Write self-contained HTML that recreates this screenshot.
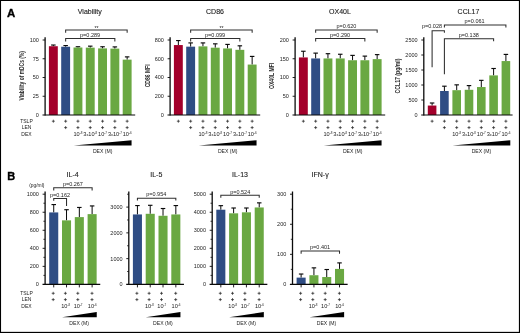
<!DOCTYPE html>
<html><head><meta charset="utf-8"><title>Figure</title>
<style>html,body{margin:0;padding:0;background:#fff;overflow:hidden}svg{display:block}svg text{font-family:"Liberation Sans","DejaVu Sans",sans-serif}</style>
</head><body>
<svg width="520" height="333" viewBox="0 0 520 333" role="img">
<rect x="0" y="0" width="520" height="333" fill="#fff"/>
<g>
<path d="M53.35 46.22V45.03" stroke="#0a0a0a" stroke-width="1"/>
<path d="M51.1 45.03H55.6" stroke="#0a0a0a" stroke-width="1.15"/>
<rect x="48.9" y="46.22" width="8.9" height="68.78" fill="#a3002b"/>
<path d="M65.65 46.75V45.55" stroke="#0a0a0a" stroke-width="1"/>
<path d="M63.4 45.55H67.9" stroke="#0a0a0a" stroke-width="1.15"/>
<rect x="61.2" y="46.75" width="8.9" height="68.25" fill="#2f4d84"/>
<path d="M77.95 47.5V46.75" stroke="#0a0a0a" stroke-width="1"/>
<path d="M75.7 46.75H80.2" stroke="#0a0a0a" stroke-width="1.15"/>
<rect x="73.5" y="47.5" width="8.9" height="67.5" fill="#6aa842"/>
<path d="M90.25 47.65V46.15" stroke="#0a0a0a" stroke-width="1"/>
<path d="M88 46.15H92.5" stroke="#0a0a0a" stroke-width="1.15"/>
<rect x="85.8" y="47.65" width="8.9" height="67.35" fill="#6aa842"/>
<path d="M102.55 48.4V46.75" stroke="#0a0a0a" stroke-width="1"/>
<path d="M100.3 46.75H104.8" stroke="#0a0a0a" stroke-width="1.15"/>
<rect x="98.1" y="48.4" width="8.9" height="66.6" fill="#6aa842"/>
<path d="M114.85 48.62V46.9" stroke="#0a0a0a" stroke-width="1"/>
<path d="M112.6 46.9H117.1" stroke="#0a0a0a" stroke-width="1.15"/>
<rect x="110.4" y="48.62" width="8.9" height="66.38" fill="#6aa842"/>
<path d="M127.15 59.65V56.88" stroke="#0a0a0a" stroke-width="1"/>
<path d="M124.9 56.88H129.4" stroke="#0a0a0a" stroke-width="1.15"/>
<rect x="122.7" y="59.65" width="8.9" height="55.35" fill="#6aa842"/>
<path d="M45.1 37.2L45.1 115.6" stroke="#0a0a0a" stroke-width="1.3"/>
<path d="M42.5 115L135.2 115" stroke="#0a0a0a" stroke-width="1.2"/>
<text x="38.9" y="116.95" font-size="5.5" text-anchor="end" fill="#1c1c1c">0</text>
<path d="M42.6 96.25L45.1 96.25" stroke="#0a0a0a" stroke-width="0.9"/>
<text x="38.9" y="98.2" font-size="5.5" text-anchor="end" fill="#1c1c1c">25</text>
<path d="M42.6 77.5L45.1 77.5" stroke="#0a0a0a" stroke-width="0.9"/>
<text x="38.9" y="79.45" font-size="5.5" text-anchor="end" fill="#1c1c1c">50</text>
<path d="M42.6 58.75L45.1 58.75" stroke="#0a0a0a" stroke-width="0.9"/>
<text x="38.9" y="60.7" font-size="5.5" text-anchor="end" fill="#1c1c1c">75</text>
<path d="M42.6 40L45.1 40" stroke="#0a0a0a" stroke-width="0.9"/>
<text x="38.9" y="41.95" font-size="5.5" text-anchor="end" fill="#1c1c1c">100</text>
<text x="89.8" y="13.6" font-size="7.0" text-anchor="middle" fill="#1c1c1c" stroke="#1c1c1c" stroke-width="0.12">Viability</text>
<text transform="translate(23.9,75.8) rotate(-90) scale(0.707,1)" font-size="7" font-weight="bold" text-anchor="middle" fill="#2a2a2a">Viability of mDCs (%)</text>
</g>
<path d="M65.65 32.8L65.65 30L127.15 30L127.15 32.8" fill="none" stroke="#2e2e2e" stroke-width="1.05"/>
<text x="96.4" y="29.7" font-size="5.2" text-anchor="middle" fill="#1c1c1c">**</text>
<path d="M65.65 41.4L65.65 38.5L114.85 38.5L114.85 41.4" fill="none" stroke="#2e2e2e" stroke-width="1.05"/>
<text x="90.1" y="36.6" font-size="5.5" text-anchor="middle" fill="#1c1c1c">p=0.289</text>
<path d="M51.85 121.2H54.85M53.35 119.7V122.7" stroke="#1c1c1c" stroke-width="0.7"/>
<path d="M64.15 121.2H67.15M65.65 119.7V122.7" stroke="#1c1c1c" stroke-width="0.7"/>
<path d="M76.45 121.2H79.45M77.95 119.7V122.7" stroke="#1c1c1c" stroke-width="0.7"/>
<path d="M88.75 121.2H91.75M90.25 119.7V122.7" stroke="#1c1c1c" stroke-width="0.7"/>
<path d="M101.05 121.2H104.05M102.55 119.7V122.7" stroke="#1c1c1c" stroke-width="0.7"/>
<path d="M113.35 121.2H116.35M114.85 119.7V122.7" stroke="#1c1c1c" stroke-width="0.7"/>
<path d="M125.65 121.2H128.65M127.15 119.7V122.7" stroke="#1c1c1c" stroke-width="0.7"/>
<path d="M64.15 127.6H67.15M65.65 126.1V129.1" stroke="#1c1c1c" stroke-width="0.7"/>
<path d="M76.45 127.6H79.45M77.95 126.1V129.1" stroke="#1c1c1c" stroke-width="0.7"/>
<path d="M88.75 127.6H91.75M90.25 126.1V129.1" stroke="#1c1c1c" stroke-width="0.7"/>
<path d="M101.05 127.6H104.05M102.55 126.1V129.1" stroke="#1c1c1c" stroke-width="0.7"/>
<path d="M113.35 127.6H116.35M114.85 126.1V129.1" stroke="#1c1c1c" stroke-width="0.7"/>
<path d="M125.65 127.6H128.65M127.15 126.1V129.1" stroke="#1c1c1c" stroke-width="0.7"/>
<text x="77.95" y="135.7" font-size="5.6" text-anchor="middle" fill="#1c1c1c">10<tspan font-size="3" dy="-1.5">-8</tspan></text>
<text x="90.25" y="135.7" font-size="5.6" text-anchor="middle" fill="#1c1c1c">3<tspan font-size="3.8">x</tspan>10<tspan font-size="3" dy="-1.5">-8</tspan></text>
<text x="102.55" y="135.7" font-size="5.6" text-anchor="middle" fill="#1c1c1c">10<tspan font-size="3" dy="-1.5">-7</tspan></text>
<text x="114.85" y="135.7" font-size="5.6" text-anchor="middle" fill="#1c1c1c">3<tspan font-size="3.8">x</tspan>10<tspan font-size="3" dy="-1.5">-7</tspan></text>
<text x="127.15" y="135.7" font-size="5.6" text-anchor="middle" fill="#1c1c1c">10<tspan font-size="3" dy="-1.5">-6</tspan></text>
<path d="M73.75 145.4L131.55 140.2V145.4Z" fill="#000"/>
<text x="102.65" y="153.1" font-size="5.1" text-anchor="middle" fill="#1c1c1c">DEX (M)</text>
<text x="26.5" y="122.8" font-size="5.0" text-anchor="middle" fill="#1c1c1c">TSLP</text>
<text x="26.5" y="129.15" font-size="5.0" text-anchor="middle" fill="#1c1c1c">LEN</text>
<text x="26.5" y="135.5" font-size="5.0" text-anchor="middle" fill="#1c1c1c">DEX</text>
<g>
<path d="M178.35 45.06V40.56" stroke="#0a0a0a" stroke-width="1"/>
<path d="M176.1 40.56H180.6" stroke="#0a0a0a" stroke-width="1.15"/>
<rect x="173.9" y="45.06" width="8.9" height="69.94" fill="#a3002b"/>
<path d="M190.65 46.66V42.91" stroke="#0a0a0a" stroke-width="1"/>
<path d="M188.4 42.91H192.9" stroke="#0a0a0a" stroke-width="1.15"/>
<rect x="186.2" y="46.66" width="8.9" height="68.34" fill="#2f4d84"/>
<path d="M202.95 46.38V42.91" stroke="#0a0a0a" stroke-width="1"/>
<path d="M200.7 42.91H205.2" stroke="#0a0a0a" stroke-width="1.15"/>
<rect x="198.5" y="46.38" width="8.9" height="68.62" fill="#6aa842"/>
<path d="M215.25 47.69V43.84" stroke="#0a0a0a" stroke-width="1"/>
<path d="M213 43.84H217.5" stroke="#0a0a0a" stroke-width="1.15"/>
<rect x="210.8" y="47.69" width="8.9" height="67.31" fill="#6aa842"/>
<path d="M227.55 48.44V44.41" stroke="#0a0a0a" stroke-width="1"/>
<path d="M225.3 44.41H229.8" stroke="#0a0a0a" stroke-width="1.15"/>
<rect x="223.1" y="48.44" width="8.9" height="66.56" fill="#6aa842"/>
<path d="M239.85 49.84V45.81" stroke="#0a0a0a" stroke-width="1"/>
<path d="M237.6 45.81H242.1" stroke="#0a0a0a" stroke-width="1.15"/>
<rect x="235.4" y="49.84" width="8.9" height="65.16" fill="#6aa842"/>
<path d="M252.15 64.56V56.41" stroke="#0a0a0a" stroke-width="1"/>
<path d="M249.9 56.41H254.4" stroke="#0a0a0a" stroke-width="1.15"/>
<rect x="247.7" y="64.56" width="8.9" height="50.44" fill="#6aa842"/>
<path d="M170.1 37.2L170.1 115.6" stroke="#0a0a0a" stroke-width="1.3"/>
<path d="M167.5 115L260.2 115" stroke="#0a0a0a" stroke-width="1.2"/>
<text x="163.9" y="116.95" font-size="5.5" text-anchor="end" fill="#1c1c1c">0</text>
<path d="M167.6 96.25L170.1 96.25" stroke="#0a0a0a" stroke-width="0.9"/>
<text x="163.9" y="98.2" font-size="5.5" text-anchor="end" fill="#1c1c1c">200</text>
<path d="M167.6 77.5L170.1 77.5" stroke="#0a0a0a" stroke-width="0.9"/>
<text x="163.9" y="79.45" font-size="5.5" text-anchor="end" fill="#1c1c1c">400</text>
<path d="M167.6 58.75L170.1 58.75" stroke="#0a0a0a" stroke-width="0.9"/>
<text x="163.9" y="60.7" font-size="5.5" text-anchor="end" fill="#1c1c1c">600</text>
<path d="M167.6 40L170.1 40" stroke="#0a0a0a" stroke-width="0.9"/>
<text x="163.9" y="41.95" font-size="5.5" text-anchor="end" fill="#1c1c1c">800</text>
<text x="215" y="13.6" font-size="7.0" text-anchor="middle" fill="#1c1c1c" stroke="#1c1c1c" stroke-width="0.12">CD86</text>
<text transform="translate(149.9,75.9) rotate(-90) scale(0.72,1)" font-size="7" font-weight="bold" text-anchor="middle" fill="#2a2a2a">CD86 MFI</text>
</g>
<path d="M190.65 32.8L190.65 30L252.15 30L252.15 32.8" fill="none" stroke="#2e2e2e" stroke-width="1.05"/>
<text x="221.4" y="29.7" font-size="5.2" text-anchor="middle" fill="#1c1c1c">**</text>
<path d="M190.65 41.4L190.65 38.5L239.85 38.5L239.85 41.4" fill="none" stroke="#2e2e2e" stroke-width="1.05"/>
<text x="215.1" y="36.6" font-size="5.5" text-anchor="middle" fill="#1c1c1c">p=0.099</text>
<path d="M176.85 121.2H179.85M178.35 119.7V122.7" stroke="#1c1c1c" stroke-width="0.7"/>
<path d="M189.15 121.2H192.15M190.65 119.7V122.7" stroke="#1c1c1c" stroke-width="0.7"/>
<path d="M201.45 121.2H204.45M202.95 119.7V122.7" stroke="#1c1c1c" stroke-width="0.7"/>
<path d="M213.75 121.2H216.75M215.25 119.7V122.7" stroke="#1c1c1c" stroke-width="0.7"/>
<path d="M226.05 121.2H229.05M227.55 119.7V122.7" stroke="#1c1c1c" stroke-width="0.7"/>
<path d="M238.35 121.2H241.35M239.85 119.7V122.7" stroke="#1c1c1c" stroke-width="0.7"/>
<path d="M250.65 121.2H253.65M252.15 119.7V122.7" stroke="#1c1c1c" stroke-width="0.7"/>
<path d="M189.15 127.6H192.15M190.65 126.1V129.1" stroke="#1c1c1c" stroke-width="0.7"/>
<path d="M201.45 127.6H204.45M202.95 126.1V129.1" stroke="#1c1c1c" stroke-width="0.7"/>
<path d="M213.75 127.6H216.75M215.25 126.1V129.1" stroke="#1c1c1c" stroke-width="0.7"/>
<path d="M226.05 127.6H229.05M227.55 126.1V129.1" stroke="#1c1c1c" stroke-width="0.7"/>
<path d="M238.35 127.6H241.35M239.85 126.1V129.1" stroke="#1c1c1c" stroke-width="0.7"/>
<path d="M250.65 127.6H253.65M252.15 126.1V129.1" stroke="#1c1c1c" stroke-width="0.7"/>
<text x="202.95" y="135.7" font-size="5.6" text-anchor="middle" fill="#1c1c1c">10<tspan font-size="3" dy="-1.5">-8</tspan></text>
<text x="215.25" y="135.7" font-size="5.6" text-anchor="middle" fill="#1c1c1c">3<tspan font-size="3.8">x</tspan>10<tspan font-size="3" dy="-1.5">-8</tspan></text>
<text x="227.55" y="135.7" font-size="5.6" text-anchor="middle" fill="#1c1c1c">10<tspan font-size="3" dy="-1.5">-7</tspan></text>
<text x="239.85" y="135.7" font-size="5.6" text-anchor="middle" fill="#1c1c1c">3<tspan font-size="3.8">x</tspan>10<tspan font-size="3" dy="-1.5">-7</tspan></text>
<text x="252.15" y="135.7" font-size="5.6" text-anchor="middle" fill="#1c1c1c">10<tspan font-size="3" dy="-1.5">-6</tspan></text>
<path d="M198.75 145.4L256.55 140.2V145.4Z" fill="#000"/>
<text x="227.65" y="153.1" font-size="5.1" text-anchor="middle" fill="#1c1c1c">DEX (M)</text>
<g>
<path d="M303.35 57.44V51.25" stroke="#0a0a0a" stroke-width="1"/>
<path d="M301.1 51.25H305.6" stroke="#0a0a0a" stroke-width="1.15"/>
<rect x="298.9" y="57.44" width="8.9" height="57.56" fill="#a3002b"/>
<path d="M315.65 58.45V53.12" stroke="#0a0a0a" stroke-width="1"/>
<path d="M313.4 53.12H317.9" stroke="#0a0a0a" stroke-width="1.15"/>
<rect x="311.2" y="58.45" width="8.9" height="56.55" fill="#2f4d84"/>
<path d="M327.95 58.45V53.69" stroke="#0a0a0a" stroke-width="1"/>
<path d="M325.7 53.69H330.2" stroke="#0a0a0a" stroke-width="1.15"/>
<rect x="323.5" y="58.45" width="8.9" height="56.55" fill="#6aa842"/>
<path d="M340.25 58.45V54.25" stroke="#0a0a0a" stroke-width="1"/>
<path d="M338 54.25H342.5" stroke="#0a0a0a" stroke-width="1.15"/>
<rect x="335.8" y="58.45" width="8.9" height="56.55" fill="#6aa842"/>
<path d="M352.55 60.25V55.38" stroke="#0a0a0a" stroke-width="1"/>
<path d="M350.3 55.38H354.8" stroke="#0a0a0a" stroke-width="1.15"/>
<rect x="348.1" y="60.25" width="8.9" height="54.75" fill="#6aa842"/>
<path d="M364.85 60.25V56.12" stroke="#0a0a0a" stroke-width="1"/>
<path d="M362.6 56.12H367.1" stroke="#0a0a0a" stroke-width="1.15"/>
<rect x="360.4" y="60.25" width="8.9" height="54.75" fill="#6aa842"/>
<path d="M377.15 59.12V54.62" stroke="#0a0a0a" stroke-width="1"/>
<path d="M374.9 54.62H379.4" stroke="#0a0a0a" stroke-width="1.15"/>
<rect x="372.7" y="59.12" width="8.9" height="55.88" fill="#6aa842"/>
<path d="M295.1 37.2L295.1 115.6" stroke="#0a0a0a" stroke-width="1.3"/>
<path d="M292.5 115L385.2 115" stroke="#0a0a0a" stroke-width="1.2"/>
<text x="288.9" y="116.95" font-size="5.5" text-anchor="end" fill="#1c1c1c">0</text>
<path d="M292.6 96.25L295.1 96.25" stroke="#0a0a0a" stroke-width="0.9"/>
<text x="288.9" y="98.2" font-size="5.5" text-anchor="end" fill="#1c1c1c">50</text>
<path d="M292.6 77.5L295.1 77.5" stroke="#0a0a0a" stroke-width="0.9"/>
<text x="288.9" y="79.45" font-size="5.5" text-anchor="end" fill="#1c1c1c">100</text>
<path d="M292.6 58.75L295.1 58.75" stroke="#0a0a0a" stroke-width="0.9"/>
<text x="288.9" y="60.7" font-size="5.5" text-anchor="end" fill="#1c1c1c">150</text>
<path d="M292.6 40L295.1 40" stroke="#0a0a0a" stroke-width="0.9"/>
<text x="288.9" y="41.95" font-size="5.5" text-anchor="end" fill="#1c1c1c">200</text>
<text x="340" y="13.6" font-size="7.0" text-anchor="middle" fill="#1c1c1c" stroke="#1c1c1c" stroke-width="0.12">OX40L</text>
<text transform="translate(273.7,75.9) rotate(-90) scale(0.73,1)" font-size="7" font-weight="bold" text-anchor="middle" fill="#2a2a2a">OX40L MFI</text>
</g>
<path d="M315.65 32.8L315.65 30L377.15 30L377.15 32.8" fill="none" stroke="#2e2e2e" stroke-width="1.05"/>
<text x="346.4" y="28.3" font-size="5.5" text-anchor="middle" fill="#1c1c1c">p=0.620</text>
<path d="M315.65 41.4L315.65 38.5L364.85 38.5L364.85 41.4" fill="none" stroke="#2e2e2e" stroke-width="1.05"/>
<text x="340.1" y="36.5" font-size="5.5" text-anchor="middle" fill="#1c1c1c">p=0.290</text>
<path d="M301.85 121.2H304.85M303.35 119.7V122.7" stroke="#1c1c1c" stroke-width="0.7"/>
<path d="M314.15 121.2H317.15M315.65 119.7V122.7" stroke="#1c1c1c" stroke-width="0.7"/>
<path d="M326.45 121.2H329.45M327.95 119.7V122.7" stroke="#1c1c1c" stroke-width="0.7"/>
<path d="M338.75 121.2H341.75M340.25 119.7V122.7" stroke="#1c1c1c" stroke-width="0.7"/>
<path d="M351.05 121.2H354.05M352.55 119.7V122.7" stroke="#1c1c1c" stroke-width="0.7"/>
<path d="M363.35 121.2H366.35M364.85 119.7V122.7" stroke="#1c1c1c" stroke-width="0.7"/>
<path d="M375.65 121.2H378.65M377.15 119.7V122.7" stroke="#1c1c1c" stroke-width="0.7"/>
<path d="M314.15 127.6H317.15M315.65 126.1V129.1" stroke="#1c1c1c" stroke-width="0.7"/>
<path d="M326.45 127.6H329.45M327.95 126.1V129.1" stroke="#1c1c1c" stroke-width="0.7"/>
<path d="M338.75 127.6H341.75M340.25 126.1V129.1" stroke="#1c1c1c" stroke-width="0.7"/>
<path d="M351.05 127.6H354.05M352.55 126.1V129.1" stroke="#1c1c1c" stroke-width="0.7"/>
<path d="M363.35 127.6H366.35M364.85 126.1V129.1" stroke="#1c1c1c" stroke-width="0.7"/>
<path d="M375.65 127.6H378.65M377.15 126.1V129.1" stroke="#1c1c1c" stroke-width="0.7"/>
<text x="327.95" y="135.7" font-size="5.6" text-anchor="middle" fill="#1c1c1c">10<tspan font-size="3" dy="-1.5">-8</tspan></text>
<text x="340.25" y="135.7" font-size="5.6" text-anchor="middle" fill="#1c1c1c">3<tspan font-size="3.8">x</tspan>10<tspan font-size="3" dy="-1.5">-8</tspan></text>
<text x="352.55" y="135.7" font-size="5.6" text-anchor="middle" fill="#1c1c1c">10<tspan font-size="3" dy="-1.5">-7</tspan></text>
<text x="364.85" y="135.7" font-size="5.6" text-anchor="middle" fill="#1c1c1c">3<tspan font-size="3.8">x</tspan>10<tspan font-size="3" dy="-1.5">-7</tspan></text>
<text x="377.15" y="135.7" font-size="5.6" text-anchor="middle" fill="#1c1c1c">10<tspan font-size="3" dy="-1.5">-6</tspan></text>
<path d="M323.75 145.4L381.55 140.2V145.4Z" fill="#000"/>
<text x="352.65" y="153.1" font-size="5.1" text-anchor="middle" fill="#1c1c1c">DEX (M)</text>
<g>
<path d="M432.1 105.55V103" stroke="#0a0a0a" stroke-width="1"/>
<path d="M429.85 103H434.35" stroke="#0a0a0a" stroke-width="1.15"/>
<rect x="427.8" y="105.55" width="8.6" height="9.45" fill="#a3002b"/>
<path d="M444.4 91V86.2" stroke="#0a0a0a" stroke-width="1"/>
<path d="M442.15 86.2H446.65" stroke="#0a0a0a" stroke-width="1.15"/>
<rect x="440.1" y="91" width="8.6" height="24" fill="#2f4d84"/>
<path d="M456.7 90.19V84.85" stroke="#0a0a0a" stroke-width="1"/>
<path d="M454.45 84.85H458.95" stroke="#0a0a0a" stroke-width="1.15"/>
<rect x="452.4" y="90.19" width="8.6" height="24.81" fill="#6aa842"/>
<path d="M469 89.8V85.6" stroke="#0a0a0a" stroke-width="1"/>
<path d="M466.75 85.6H471.25" stroke="#0a0a0a" stroke-width="1.15"/>
<rect x="464.7" y="89.8" width="8.6" height="25.2" fill="#6aa842"/>
<path d="M481.3 87.04V80.35" stroke="#0a0a0a" stroke-width="1"/>
<path d="M479.05 80.35H483.55" stroke="#0a0a0a" stroke-width="1.15"/>
<rect x="477" y="87.04" width="8.6" height="27.96" fill="#6aa842"/>
<path d="M493.6 75.4V68.5" stroke="#0a0a0a" stroke-width="1"/>
<path d="M491.35 68.5H495.85" stroke="#0a0a0a" stroke-width="1.15"/>
<rect x="489.3" y="75.4" width="8.6" height="39.6" fill="#6aa842"/>
<path d="M505.9 61.06V54.4" stroke="#0a0a0a" stroke-width="1"/>
<path d="M503.65 54.4H508.15" stroke="#0a0a0a" stroke-width="1.15"/>
<rect x="501.6" y="61.06" width="8.6" height="53.94" fill="#6aa842"/>
<path d="M423.8 37.2L423.8 115.6" stroke="#0a0a0a" stroke-width="1.3"/>
<path d="M421.2 115L512.6 115" stroke="#0a0a0a" stroke-width="1.2"/>
<text x="417.6" y="116.95" font-size="5.5" text-anchor="end" fill="#1c1c1c">0</text>
<path d="M421.3 100L423.8 100" stroke="#0a0a0a" stroke-width="0.9"/>
<text x="417.6" y="101.95" font-size="5.5" text-anchor="end" fill="#1c1c1c">500</text>
<path d="M421.3 85L423.8 85" stroke="#0a0a0a" stroke-width="0.9"/>
<text x="417.6" y="86.95" font-size="5.5" text-anchor="end" fill="#1c1c1c">1000</text>
<path d="M421.3 70L423.8 70" stroke="#0a0a0a" stroke-width="0.9"/>
<text x="417.6" y="71.95" font-size="5.5" text-anchor="end" fill="#1c1c1c">1500</text>
<path d="M421.3 55L423.8 55" stroke="#0a0a0a" stroke-width="0.9"/>
<text x="417.6" y="56.95" font-size="5.5" text-anchor="end" fill="#1c1c1c">2000</text>
<path d="M421.3 40L423.8 40" stroke="#0a0a0a" stroke-width="0.9"/>
<text x="417.6" y="41.95" font-size="5.5" text-anchor="end" fill="#1c1c1c">2500</text>
<text x="468.5" y="13.6" font-size="7.0" text-anchor="middle" fill="#1c1c1c" stroke="#1c1c1c" stroke-width="0.12">CCL17</text>
<text transform="translate(399.5,76) rotate(-90) scale(0.735,1)" font-size="7" font-weight="bold" text-anchor="middle" fill="#2a2a2a">CCL17 (pg/ml)</text>
</g>
<path d="M432.1 67.3L432.1 30.8L444.4 30.8L444.4 32.8" fill="none" stroke="#2e2e2e" stroke-width="1.05"/>
<text x="432" y="28.4" font-size="5.5" text-anchor="middle" fill="#1c1c1c">p=0.028</text>
<path d="M444.4 27.6L444.4 24.9L505.9 24.9L505.9 27.6" fill="none" stroke="#2e2e2e" stroke-width="1.05"/>
<text x="474.6" y="23.2" font-size="5.5" text-anchor="middle" fill="#1c1c1c">p=0.061</text>
<path d="M444.4 74.2L444.4 38.7L493.6 38.7L493.6 41.3" fill="none" stroke="#2e2e2e" stroke-width="1.05"/>
<text x="468.8" y="36.7" font-size="5.5" text-anchor="middle" fill="#1c1c1c">p=0.138</text>
<path d="M430.6 121.2H433.6M432.1 119.7V122.7" stroke="#1c1c1c" stroke-width="0.7"/>
<path d="M442.9 121.2H445.9M444.4 119.7V122.7" stroke="#1c1c1c" stroke-width="0.7"/>
<path d="M455.2 121.2H458.2M456.7 119.7V122.7" stroke="#1c1c1c" stroke-width="0.7"/>
<path d="M467.5 121.2H470.5M469 119.7V122.7" stroke="#1c1c1c" stroke-width="0.7"/>
<path d="M479.8 121.2H482.8M481.3 119.7V122.7" stroke="#1c1c1c" stroke-width="0.7"/>
<path d="M492.1 121.2H495.1M493.6 119.7V122.7" stroke="#1c1c1c" stroke-width="0.7"/>
<path d="M504.4 121.2H507.4M505.9 119.7V122.7" stroke="#1c1c1c" stroke-width="0.7"/>
<path d="M442.9 127.6H445.9M444.4 126.1V129.1" stroke="#1c1c1c" stroke-width="0.7"/>
<path d="M455.2 127.6H458.2M456.7 126.1V129.1" stroke="#1c1c1c" stroke-width="0.7"/>
<path d="M467.5 127.6H470.5M469 126.1V129.1" stroke="#1c1c1c" stroke-width="0.7"/>
<path d="M479.8 127.6H482.8M481.3 126.1V129.1" stroke="#1c1c1c" stroke-width="0.7"/>
<path d="M492.1 127.6H495.1M493.6 126.1V129.1" stroke="#1c1c1c" stroke-width="0.7"/>
<path d="M504.4 127.6H507.4M505.9 126.1V129.1" stroke="#1c1c1c" stroke-width="0.7"/>
<text x="456.7" y="135.7" font-size="5.6" text-anchor="middle" fill="#1c1c1c">10<tspan font-size="3" dy="-1.5">-8</tspan></text>
<text x="469" y="135.7" font-size="5.6" text-anchor="middle" fill="#1c1c1c">3<tspan font-size="3.8">x</tspan>10<tspan font-size="3" dy="-1.5">-8</tspan></text>
<text x="481.3" y="135.7" font-size="5.6" text-anchor="middle" fill="#1c1c1c">10<tspan font-size="3" dy="-1.5">-7</tspan></text>
<text x="493.6" y="135.7" font-size="5.6" text-anchor="middle" fill="#1c1c1c">3<tspan font-size="3.8">x</tspan>10<tspan font-size="3" dy="-1.5">-7</tspan></text>
<text x="505.9" y="135.7" font-size="5.6" text-anchor="middle" fill="#1c1c1c">10<tspan font-size="3" dy="-1.5">-6</tspan></text>
<path d="M452.5 145.4L510.3 140.2V145.4Z" fill="#000"/>
<text x="481.4" y="153.1" font-size="5.1" text-anchor="middle" fill="#1c1c1c">DEX (M)</text>
<g>
<path d="M53.73 212.42V204.57" stroke="#0a0a0a" stroke-width="1"/>
<path d="M51.48 204.57H55.98" stroke="#0a0a0a" stroke-width="1.15"/>
<rect x="49.2" y="212.42" width="9.05" height="71.98" fill="#2f4d84"/>
<path d="M66.53 220.36V209.71" stroke="#0a0a0a" stroke-width="1"/>
<path d="M64.28 209.71H68.78" stroke="#0a0a0a" stroke-width="1.15"/>
<rect x="62" y="220.36" width="9.05" height="64.04" fill="#6aa842"/>
<path d="M79.33 217.11V207.46" stroke="#0a0a0a" stroke-width="1"/>
<path d="M77.08 207.46H81.58" stroke="#0a0a0a" stroke-width="1.15"/>
<rect x="74.8" y="217.11" width="9.05" height="67.29" fill="#6aa842"/>
<path d="M92.12 214.13V205.93" stroke="#0a0a0a" stroke-width="1"/>
<path d="M89.88 205.93H94.38" stroke="#0a0a0a" stroke-width="1.15"/>
<rect x="87.6" y="214.13" width="9.05" height="70.27" fill="#6aa842"/>
<path d="M45.1 191.5L45.1 285" stroke="#0a0a0a" stroke-width="1.3"/>
<path d="M42.5 284.4L100.25 284.4" stroke="#0a0a0a" stroke-width="1.2"/>
<text x="38.9" y="286.35" font-size="5.5" text-anchor="end" fill="#1c1c1c">0</text>
<path d="M42.6 266.36L45.1 266.36" stroke="#0a0a0a" stroke-width="0.9"/>
<text x="38.9" y="268.31" font-size="5.5" text-anchor="end" fill="#1c1c1c">200</text>
<path d="M42.6 248.32L45.1 248.32" stroke="#0a0a0a" stroke-width="0.9"/>
<text x="38.9" y="250.27" font-size="5.5" text-anchor="end" fill="#1c1c1c">400</text>
<path d="M42.6 230.28L45.1 230.28" stroke="#0a0a0a" stroke-width="0.9"/>
<text x="38.9" y="232.23" font-size="5.5" text-anchor="end" fill="#1c1c1c">600</text>
<path d="M42.6 212.24L45.1 212.24" stroke="#0a0a0a" stroke-width="0.9"/>
<text x="38.9" y="214.19" font-size="5.5" text-anchor="end" fill="#1c1c1c">800</text>
<path d="M42.6 194.2L45.1 194.2" stroke="#0a0a0a" stroke-width="0.9"/>
<text x="38.9" y="196.15" font-size="5.5" text-anchor="end" fill="#1c1c1c">1000</text>
<path d="M43.4 275.38L45.1 275.38" stroke="#0a0a0a" stroke-width="0.8"/>
<path d="M43.4 257.34L45.1 257.34" stroke="#0a0a0a" stroke-width="0.8"/>
<path d="M43.4 239.3L45.1 239.3" stroke="#0a0a0a" stroke-width="0.8"/>
<path d="M43.4 221.26L45.1 221.26" stroke="#0a0a0a" stroke-width="0.8"/>
<path d="M43.4 203.22L45.1 203.22" stroke="#0a0a0a" stroke-width="0.8"/>
<path d="M53.73 284.4L53.73 287.4" stroke="#0a0a0a" stroke-width="0.9"/>
<path d="M66.53 284.4L66.53 287.4" stroke="#0a0a0a" stroke-width="0.9"/>
<path d="M79.33 284.4L79.33 287.4" stroke="#0a0a0a" stroke-width="0.9"/>
<path d="M92.12 284.4L92.12 287.4" stroke="#0a0a0a" stroke-width="0.9"/>
<text x="72.6" y="176.6" font-size="7.0" text-anchor="middle" fill="#1c1c1c" stroke="#1c1c1c" stroke-width="0.12">IL-4</text>
</g>
<path d="M53.73 190.4L53.73 187.8L92.12 187.8L92.12 190.4" fill="none" stroke="#2e2e2e" stroke-width="1.05"/>
<text x="72.9" y="185.9" font-size="5.5" text-anchor="middle" fill="#1c1c1c">p=0.267</text>
<path d="M53.73 200.8L53.73 198.5L66.53 198.5L66.53 206.1" fill="none" stroke="#2e2e2e" stroke-width="1.05"/>
<text x="60" y="196.7" font-size="5.5" text-anchor="middle" fill="#1c1c1c">p=0.162</text>
<text x="36.8" y="187.2" font-size="4.9" text-anchor="middle" fill="#1c1c1c">(pg/ml)</text>
<path d="M51.7 293.3H54.7M53.2 291.8V294.8" stroke="#1c1c1c" stroke-width="0.7"/>
<path d="M63.9 293.3H66.9M65.4 291.8V294.8" stroke="#1c1c1c" stroke-width="0.7"/>
<path d="M76.3 293.3H79.3M77.8 291.8V294.8" stroke="#1c1c1c" stroke-width="0.7"/>
<path d="M90.5 293.3H93.5M92 291.8V294.8" stroke="#1c1c1c" stroke-width="0.7"/>
<path d="M51.7 299.6H54.7M53.2 298.1V301.1" stroke="#1c1c1c" stroke-width="0.7"/>
<path d="M63.9 299.6H66.9M65.4 298.1V301.1" stroke="#1c1c1c" stroke-width="0.7"/>
<path d="M76.3 299.6H79.3M77.8 298.1V301.1" stroke="#1c1c1c" stroke-width="0.7"/>
<path d="M90.5 299.6H93.5M92 298.1V301.1" stroke="#1c1c1c" stroke-width="0.7"/>
<text x="65.7" y="307.7" font-size="5.6" text-anchor="middle" fill="#1c1c1c">10<tspan font-size="3" dy="-1.5">-8</tspan></text>
<text x="78.1" y="307.7" font-size="5.6" text-anchor="middle" fill="#1c1c1c">10<tspan font-size="3" dy="-1.5">-7</tspan></text>
<text x="92.3" y="307.7" font-size="5.6" text-anchor="middle" fill="#1c1c1c">10<tspan font-size="3" dy="-1.5">-6</tspan></text>
<path d="M62.03 317.3L96.72 312.1V317.3Z" fill="#000"/>
<text x="79.12" y="324.9" font-size="5.1" text-anchor="middle" fill="#1c1c1c">DEX (M)</text>
<text x="26.5" y="294.9" font-size="5.0" text-anchor="middle" fill="#1c1c1c">TSLP</text>
<text x="26.5" y="301.2" font-size="5.0" text-anchor="middle" fill="#1c1c1c">LEN</text>
<text x="26.5" y="307.5" font-size="5.0" text-anchor="middle" fill="#1c1c1c">DEX</text>
<g>
<path d="M137.43 214.44V205.55" stroke="#0a0a0a" stroke-width="1"/>
<path d="M135.18 205.55H139.68" stroke="#0a0a0a" stroke-width="1.15"/>
<rect x="132.9" y="214.44" width="9.05" height="69.96" fill="#2f4d84"/>
<path d="M150.23 213.8V205.3" stroke="#0a0a0a" stroke-width="1"/>
<path d="M147.98 205.3H152.48" stroke="#0a0a0a" stroke-width="1.15"/>
<rect x="145.7" y="213.8" width="9.05" height="70.6" fill="#6aa842"/>
<path d="M163.03 215.78V208.52" stroke="#0a0a0a" stroke-width="1"/>
<path d="M160.78 208.52H165.28" stroke="#0a0a0a" stroke-width="1.15"/>
<rect x="158.5" y="215.78" width="9.05" height="68.62" fill="#6aa842"/>
<path d="M175.83 214.44V205.55" stroke="#0a0a0a" stroke-width="1"/>
<path d="M173.58 205.55H178.08" stroke="#0a0a0a" stroke-width="1.15"/>
<rect x="171.3" y="214.44" width="9.05" height="69.96" fill="#6aa842"/>
<path d="M128.8 191.5L128.8 285" stroke="#0a0a0a" stroke-width="1.3"/>
<path d="M126.2 284.4L183.95 284.4" stroke="#0a0a0a" stroke-width="1.2"/>
<text x="122.6" y="286.35" font-size="5.5" text-anchor="end" fill="#1c1c1c">0</text>
<path d="M126.3 258.63L128.8 258.63" stroke="#0a0a0a" stroke-width="0.9"/>
<text x="122.6" y="260.58" font-size="5.5" text-anchor="end" fill="#1c1c1c">1000</text>
<path d="M126.3 232.87L128.8 232.87" stroke="#0a0a0a" stroke-width="0.9"/>
<text x="122.6" y="234.82" font-size="5.5" text-anchor="end" fill="#1c1c1c">2000</text>
<path d="M126.3 207.1L128.8 207.1" stroke="#0a0a0a" stroke-width="0.9"/>
<text x="122.6" y="209.05" font-size="5.5" text-anchor="end" fill="#1c1c1c">3000</text>
<path d="M127.1 271.52L128.8 271.52" stroke="#0a0a0a" stroke-width="0.8"/>
<path d="M127.1 245.75L128.8 245.75" stroke="#0a0a0a" stroke-width="0.8"/>
<path d="M127.1 219.98L128.8 219.98" stroke="#0a0a0a" stroke-width="0.8"/>
<path d="M127.1 194.22L128.8 194.22" stroke="#0a0a0a" stroke-width="0.8"/>
<path d="M137.43 284.4L137.43 287.4" stroke="#0a0a0a" stroke-width="0.9"/>
<path d="M150.23 284.4L150.23 287.4" stroke="#0a0a0a" stroke-width="0.9"/>
<path d="M163.03 284.4L163.03 287.4" stroke="#0a0a0a" stroke-width="0.9"/>
<path d="M175.83 284.4L175.83 287.4" stroke="#0a0a0a" stroke-width="0.9"/>
<text x="156.3" y="176.6" font-size="7.0" text-anchor="middle" fill="#1c1c1c" stroke="#1c1c1c" stroke-width="0.12">IL-5</text>
</g>
<path d="M137.43 200.6L137.43 198.2L175.83 198.2L175.83 200.6" fill="none" stroke="#2e2e2e" stroke-width="1.05"/>
<text x="156.3" y="196.4" font-size="5.5" text-anchor="middle" fill="#1c1c1c">p=0.954</text>
<path d="M135.4 293.3H138.4M136.9 291.8V294.8" stroke="#1c1c1c" stroke-width="0.7"/>
<path d="M147.6 293.3H150.6M149.1 291.8V294.8" stroke="#1c1c1c" stroke-width="0.7"/>
<path d="M160 293.3H163M161.5 291.8V294.8" stroke="#1c1c1c" stroke-width="0.7"/>
<path d="M174.2 293.3H177.2M175.7 291.8V294.8" stroke="#1c1c1c" stroke-width="0.7"/>
<path d="M135.4 299.6H138.4M136.9 298.1V301.1" stroke="#1c1c1c" stroke-width="0.7"/>
<path d="M147.6 299.6H150.6M149.1 298.1V301.1" stroke="#1c1c1c" stroke-width="0.7"/>
<path d="M160 299.6H163M161.5 298.1V301.1" stroke="#1c1c1c" stroke-width="0.7"/>
<path d="M174.2 299.6H177.2M175.7 298.1V301.1" stroke="#1c1c1c" stroke-width="0.7"/>
<text x="149.4" y="307.7" font-size="5.6" text-anchor="middle" fill="#1c1c1c">10<tspan font-size="3" dy="-1.5">-8</tspan></text>
<text x="161.8" y="307.7" font-size="5.6" text-anchor="middle" fill="#1c1c1c">10<tspan font-size="3" dy="-1.5">-7</tspan></text>
<text x="176" y="307.7" font-size="5.6" text-anchor="middle" fill="#1c1c1c">10<tspan font-size="3" dy="-1.5">-6</tspan></text>
<path d="M145.73 317.3L180.43 312.1V317.3Z" fill="#000"/>
<text x="162.83" y="324.9" font-size="5.1" text-anchor="middle" fill="#1c1c1c">DEX (M)</text>
<g>
<path d="M220.82 209.71V205.66" stroke="#0a0a0a" stroke-width="1"/>
<path d="M218.57 205.66H223.07" stroke="#0a0a0a" stroke-width="1.15"/>
<rect x="216.3" y="209.71" width="9.05" height="74.69" fill="#2f4d84"/>
<path d="M233.62 213.32V208" stroke="#0a0a0a" stroke-width="1"/>
<path d="M231.38 208H235.88" stroke="#0a0a0a" stroke-width="1.15"/>
<rect x="229.1" y="213.32" width="9.05" height="71.08" fill="#6aa842"/>
<path d="M246.42 212.33V208" stroke="#0a0a0a" stroke-width="1"/>
<path d="M244.17 208H248.67" stroke="#0a0a0a" stroke-width="1.15"/>
<rect x="241.9" y="212.33" width="9.05" height="72.07" fill="#6aa842"/>
<path d="M259.23 207.46V202.86" stroke="#0a0a0a" stroke-width="1"/>
<path d="M256.98 202.86H261.48" stroke="#0a0a0a" stroke-width="1.15"/>
<rect x="254.7" y="207.46" width="9.05" height="76.94" fill="#6aa842"/>
<path d="M212.2 191.5L212.2 285" stroke="#0a0a0a" stroke-width="1.3"/>
<path d="M209.6 284.4L267.35 284.4" stroke="#0a0a0a" stroke-width="1.2"/>
<text x="206" y="286.35" font-size="5.5" text-anchor="end" fill="#1c1c1c">0</text>
<path d="M209.7 266.36L212.2 266.36" stroke="#0a0a0a" stroke-width="0.9"/>
<text x="206" y="268.31" font-size="5.5" text-anchor="end" fill="#1c1c1c">1000</text>
<path d="M209.7 248.32L212.2 248.32" stroke="#0a0a0a" stroke-width="0.9"/>
<text x="206" y="250.27" font-size="5.5" text-anchor="end" fill="#1c1c1c">2000</text>
<path d="M209.7 230.28L212.2 230.28" stroke="#0a0a0a" stroke-width="0.9"/>
<text x="206" y="232.23" font-size="5.5" text-anchor="end" fill="#1c1c1c">3000</text>
<path d="M209.7 212.24L212.2 212.24" stroke="#0a0a0a" stroke-width="0.9"/>
<text x="206" y="214.19" font-size="5.5" text-anchor="end" fill="#1c1c1c">4000</text>
<path d="M209.7 194.2L212.2 194.2" stroke="#0a0a0a" stroke-width="0.9"/>
<text x="206" y="196.15" font-size="5.5" text-anchor="end" fill="#1c1c1c">5000</text>
<path d="M210.5 275.38L212.2 275.38" stroke="#0a0a0a" stroke-width="0.8"/>
<path d="M210.5 257.34L212.2 257.34" stroke="#0a0a0a" stroke-width="0.8"/>
<path d="M210.5 239.3L212.2 239.3" stroke="#0a0a0a" stroke-width="0.8"/>
<path d="M210.5 221.26L212.2 221.26" stroke="#0a0a0a" stroke-width="0.8"/>
<path d="M210.5 203.22L212.2 203.22" stroke="#0a0a0a" stroke-width="0.8"/>
<path d="M220.82 284.4L220.82 287.4" stroke="#0a0a0a" stroke-width="0.9"/>
<path d="M233.62 284.4L233.62 287.4" stroke="#0a0a0a" stroke-width="0.9"/>
<path d="M246.42 284.4L246.42 287.4" stroke="#0a0a0a" stroke-width="0.9"/>
<path d="M259.23 284.4L259.23 287.4" stroke="#0a0a0a" stroke-width="0.9"/>
<text x="240" y="176.6" font-size="7.0" text-anchor="middle" fill="#1c1c1c" stroke="#1c1c1c" stroke-width="0.12">IL-13</text>
</g>
<path d="M220.82 197.8L220.82 195.3L259.23 195.3L259.23 197.8" fill="none" stroke="#2e2e2e" stroke-width="1.05"/>
<text x="240.2" y="193.8" font-size="5.5" text-anchor="middle" fill="#1c1c1c">p=0.524</text>
<path d="M218.8 293.3H221.8M220.3 291.8V294.8" stroke="#1c1c1c" stroke-width="0.7"/>
<path d="M231 293.3H234M232.5 291.8V294.8" stroke="#1c1c1c" stroke-width="0.7"/>
<path d="M243.4 293.3H246.4M244.9 291.8V294.8" stroke="#1c1c1c" stroke-width="0.7"/>
<path d="M257.6 293.3H260.6M259.1 291.8V294.8" stroke="#1c1c1c" stroke-width="0.7"/>
<path d="M218.8 299.6H221.8M220.3 298.1V301.1" stroke="#1c1c1c" stroke-width="0.7"/>
<path d="M231 299.6H234M232.5 298.1V301.1" stroke="#1c1c1c" stroke-width="0.7"/>
<path d="M243.4 299.6H246.4M244.9 298.1V301.1" stroke="#1c1c1c" stroke-width="0.7"/>
<path d="M257.6 299.6H260.6M259.1 298.1V301.1" stroke="#1c1c1c" stroke-width="0.7"/>
<text x="232.8" y="307.7" font-size="5.6" text-anchor="middle" fill="#1c1c1c">10<tspan font-size="3" dy="-1.5">-8</tspan></text>
<text x="245.2" y="307.7" font-size="5.6" text-anchor="middle" fill="#1c1c1c">10<tspan font-size="3" dy="-1.5">-7</tspan></text>
<text x="259.4" y="307.7" font-size="5.6" text-anchor="middle" fill="#1c1c1c">10<tspan font-size="3" dy="-1.5">-6</tspan></text>
<path d="M229.12 317.3L263.83 312.1V317.3Z" fill="#000"/>
<text x="246.23" y="324.9" font-size="5.1" text-anchor="middle" fill="#1c1c1c">DEX (M)</text>
<g>
<path d="M301.12 277.63V274.03" stroke="#0a0a0a" stroke-width="1"/>
<path d="M298.88 274.03H303.38" stroke="#0a0a0a" stroke-width="1.15"/>
<rect x="296.6" y="277.63" width="9.05" height="6.76" fill="#2f4d84"/>
<path d="M313.93 275.23V267.86" stroke="#0a0a0a" stroke-width="1"/>
<path d="M311.68 267.86H316.18" stroke="#0a0a0a" stroke-width="1.15"/>
<rect x="309.4" y="275.23" width="9.05" height="9.17" fill="#6aa842"/>
<path d="M326.73 277.03V269.52" stroke="#0a0a0a" stroke-width="1"/>
<path d="M324.48 269.52H328.98" stroke="#0a0a0a" stroke-width="1.15"/>
<rect x="322.2" y="277.03" width="9.05" height="7.37" fill="#6aa842"/>
<path d="M339.52 268.92V262.9" stroke="#0a0a0a" stroke-width="1"/>
<path d="M337.27 262.9H341.77" stroke="#0a0a0a" stroke-width="1.15"/>
<rect x="335" y="268.92" width="9.05" height="15.48" fill="#6aa842"/>
<path d="M292.5 191.5L292.5 285" stroke="#0a0a0a" stroke-width="1.3"/>
<path d="M289.9 284.4L347.65 284.4" stroke="#0a0a0a" stroke-width="1.2"/>
<text x="286.3" y="286.35" font-size="5.5" text-anchor="end" fill="#1c1c1c">0</text>
<path d="M290 254.33L292.5 254.33" stroke="#0a0a0a" stroke-width="0.9"/>
<text x="286.3" y="256.28" font-size="5.5" text-anchor="end" fill="#1c1c1c">100</text>
<path d="M290 224.27L292.5 224.27" stroke="#0a0a0a" stroke-width="0.9"/>
<text x="286.3" y="226.22" font-size="5.5" text-anchor="end" fill="#1c1c1c">200</text>
<path d="M290 194.2L292.5 194.2" stroke="#0a0a0a" stroke-width="0.9"/>
<text x="286.3" y="196.15" font-size="5.5" text-anchor="end" fill="#1c1c1c">300</text>
<path d="M290.8 269.37L292.5 269.37" stroke="#0a0a0a" stroke-width="0.8"/>
<path d="M290.8 239.3L292.5 239.3" stroke="#0a0a0a" stroke-width="0.8"/>
<path d="M290.8 209.23L292.5 209.23" stroke="#0a0a0a" stroke-width="0.8"/>
<path d="M301.12 284.4L301.12 287.4" stroke="#0a0a0a" stroke-width="0.9"/>
<path d="M313.93 284.4L313.93 287.4" stroke="#0a0a0a" stroke-width="0.9"/>
<path d="M326.73 284.4L326.73 287.4" stroke="#0a0a0a" stroke-width="0.9"/>
<path d="M339.52 284.4L339.52 287.4" stroke="#0a0a0a" stroke-width="0.9"/>
<text x="320.1" y="176.6" font-size="7.0" text-anchor="middle" fill="#1c1c1c" stroke="#1c1c1c" stroke-width="0.12">IFN-γ</text>
</g>
<path d="M301.12 253.7L301.12 250.9L339.52 250.9L339.52 253.7" fill="none" stroke="#2e2e2e" stroke-width="1.05"/>
<text x="320.1" y="249" font-size="5.5" text-anchor="middle" fill="#1c1c1c">p=0.401</text>
<path d="M299.1 293.3H302.1M300.6 291.8V294.8" stroke="#1c1c1c" stroke-width="0.7"/>
<path d="M311.3 293.3H314.3M312.8 291.8V294.8" stroke="#1c1c1c" stroke-width="0.7"/>
<path d="M323.7 293.3H326.7M325.2 291.8V294.8" stroke="#1c1c1c" stroke-width="0.7"/>
<path d="M337.9 293.3H340.9M339.4 291.8V294.8" stroke="#1c1c1c" stroke-width="0.7"/>
<path d="M299.1 299.6H302.1M300.6 298.1V301.1" stroke="#1c1c1c" stroke-width="0.7"/>
<path d="M311.3 299.6H314.3M312.8 298.1V301.1" stroke="#1c1c1c" stroke-width="0.7"/>
<path d="M323.7 299.6H326.7M325.2 298.1V301.1" stroke="#1c1c1c" stroke-width="0.7"/>
<path d="M337.9 299.6H340.9M339.4 298.1V301.1" stroke="#1c1c1c" stroke-width="0.7"/>
<text x="313.1" y="307.7" font-size="5.6" text-anchor="middle" fill="#1c1c1c">10<tspan font-size="3" dy="-1.5">-8</tspan></text>
<text x="325.5" y="307.7" font-size="5.6" text-anchor="middle" fill="#1c1c1c">10<tspan font-size="3" dy="-1.5">-7</tspan></text>
<text x="339.7" y="307.7" font-size="5.6" text-anchor="middle" fill="#1c1c1c">10<tspan font-size="3" dy="-1.5">-6</tspan></text>
<path d="M309.43 317.3L344.12 312.1V317.3Z" fill="#000"/>
<text x="326.53" y="324.9" font-size="5.1" text-anchor="middle" fill="#1c1c1c">DEX (M)</text>
<text x="6.9" y="16.9" font-size="11.4" font-weight="bold" fill="#000" stroke="#000" stroke-width="0.35">A</text>
<text x="7.3" y="179.8" font-size="11" font-weight="bold" fill="#000" stroke="#000" stroke-width="0.35">B</text>
<path d="M0.5 0V333M0 0.55H520" stroke="#000" stroke-width="1.1"/>
<rect x="518.9" y="0" width="1.1" height="333" fill="#000"/>
<rect x="0" y="331.85" width="520" height="1.15" fill="#000"/>
</svg>
</body></html>
